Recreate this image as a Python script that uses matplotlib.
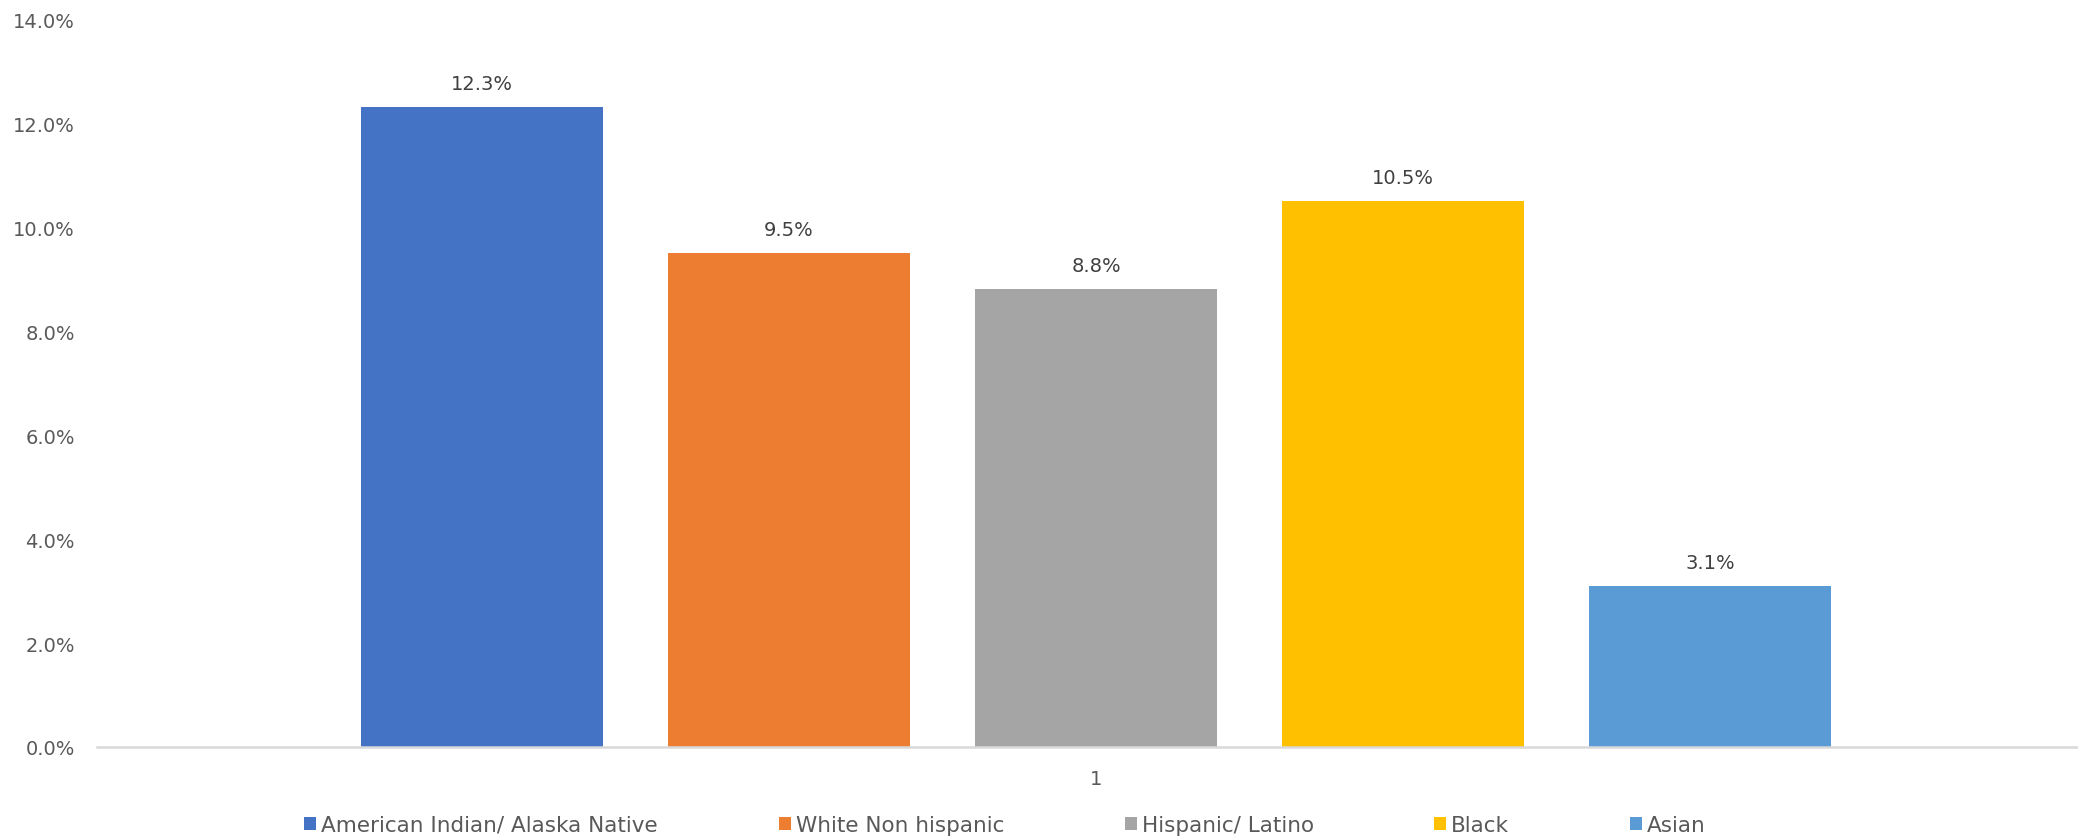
import numpy as np
import matplotlib
matplotlib.use("Agg")
import matplotlib.pyplot as plt
from matplotlib.ticker import FuncFormatter

# data
groups = ["American Indian/ Alaska Native", "White Non hispanic",
          "Hispanic/ Latino", "Black", "Asian"]
values = [12.3, 9.5, 8.8, 10.5, 3.1]
colors = ["#4472C4", "#ED7D31", "#A5A5A5", "#FFC000", "#5B9BD5"]
category = "1"

plt.rcParams["font.family"] = ["DejaVu Sans"]

fig = plt.figure(figsize=(20.78, 8.37), dpi=100)
ax = fig.add_axes([97 / 2078, 89 / 837, 1 - 97 / 2078, 728 / 837])

width = 0.788
x = np.arange(len(values))
for i, (g, v, c) in enumerate(zip(groups, values, colors)):
    ax.bar(x[i], v, width=width, color=c, label=g, zorder=2)
    ax.annotate(f"{v:.1f}%", (x[i], v), xytext=(0, 17), textcoords="offset points",
                ha="center", va="center", fontsize=14, color="#404040")

ax.set_xlim(-1.254, 5.199)
ax.set_ylim(0, 14)
ax.set_yticks(np.arange(0, 14.1, 2))
ax.yaxis.set_major_formatter(FuncFormatter(lambda v, p: f"{v:.1f}%"))
ax.set_xticks([x.mean()])
ax.set_xticklabels([category])

for s in ["top", "right", "left"]:
    ax.spines[s].set_visible(False)
ax.spines["bottom"].set_color("#D9D9D9")
ax.spines["bottom"].set_linewidth(1.8)
ax.spines["bottom"].set_zorder(3)
ax.tick_params(axis="both", length=0, labelsize=14, labelcolor="#595959")
ax.tick_params(axis="y", pad=16)
ax.tick_params(axis="x", pad=16)

fig.legend(loc="center", bbox_to_anchor=(1005 / 2078, 11 / 837), ncol=5,
           frameon=False, fontsize=15.5, handlelength=0.56, handleheight=0.6,
           handletextpad=0.23, columnspacing=5.6, borderpad=0,
           labelcolor="#595959")

fig.savefig("out.png", dpi=100)
